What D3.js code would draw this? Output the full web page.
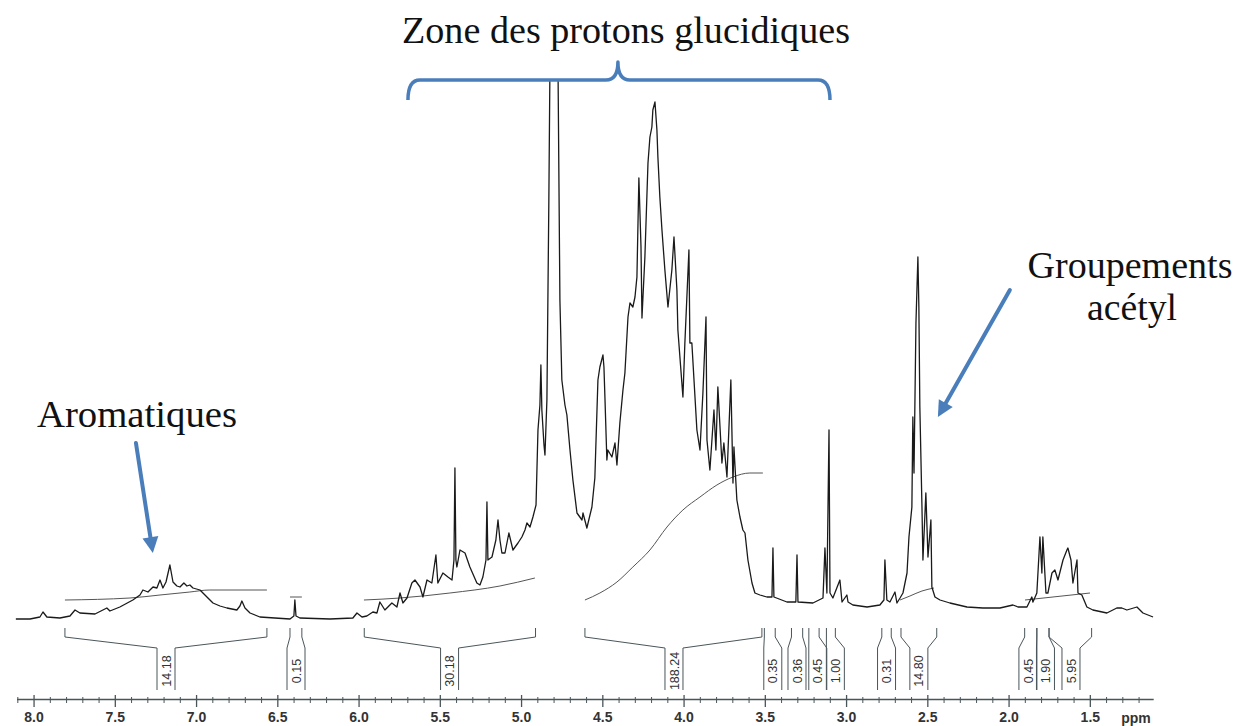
<!DOCTYPE html>
<html>
<head>
<meta charset="utf-8">
<script src="https://cdn.jsdelivr.net/npm/d3@7"></script>
<style>
  html, body { margin: 0; padding: 0; background: #fff; }
  svg { display: block; }
</style>
</head>
<body>
<svg id="chart" width="1236" height="726"></svg>
<script>
// 1H NMR spectrum: [chemical shift (ppm), intensity (a.u.)]
const spectrum = [
  [8.109,1],[8.022,1],[7.961,3],[7.942,8],[7.918,3],[7.838,2],[7.776,4],[7.745,10],[7.715,7],[7.622,6],
  [7.549,12],[7.530,9],[7.469,13],[7.389,20],[7.345,25],[7.327,30],[7.296,28],[7.265,33],[7.241,32],[7.222,40],
  [7.204,32],[7.185,38],[7.161,55],[7.142,38],[7.118,34],[7.099,33],[7.075,37],[7.056,34],[7.038,35],[7.019,32],
  [6.976,30],[6.933,23],[6.896,17],[6.853,14],[6.810,12],[6.749,10],[6.730,14],[6.718,19],[6.699,12],[6.668,7],
  [6.607,3],[6.515,2],[6.422,1],[6.398,4],[6.392,20],[6.385,4],[6.361,2],[6.176,1],[6.035,2],[6.010,7],
  [5.979,3],[5.949,4],[5.912,8],[5.887,7],[5.869,18],[5.838,10],[5.795,17],[5.764,13],[5.745,27],[5.727,17],
  [5.702,22],[5.672,37],[5.653,40],[5.622,33],[5.604,23],[5.579,40],[5.549,37],[5.524,65],[5.512,37],[5.481,47],
  [5.450,43],[5.425,40],[5.413,60],[5.407,152],[5.401,60],[5.395,53],[5.376,70],[5.345,67],[5.315,53],[5.272,37],
  [5.253,35],[5.235,43],[5.216,60],[5.210,118],[5.204,60],[5.179,63],[5.155,80],[5.142,100],[5.130,80],[5.118,67],
  [5.099,67],[5.075,87],[5.050,70],[5.019,77],[4.995,83],[4.976,90],[4.964,97],[4.945,93],[4.927,103],[4.908,115],
  [4.896,190],[4.884,215],[4.878,255],[4.872,210],[4.859,175],[4.853,165],[4.841,220],[4.829,420],[4.822,560],[4.773,560],
  [4.761,320],[4.749,240],[4.730,215],[4.718,205],[4.699,170],[4.681,140],[4.656,107],[4.625,100],[4.619,107],[4.595,92],
  [4.576,105],[4.564,113],[4.546,142],[4.527,240],[4.515,253],[4.496,265],[4.490,253],[4.484,223],[4.472,160],[4.466,170],
  [4.441,163],[4.422,177],[4.410,155],[4.392,197],[4.373,230],[4.361,247],[4.342,303],[4.330,317],[4.312,313],[4.299,323],
  [4.287,343],[4.275,442],[4.262,373],[4.256,302],[4.238,363],[4.219,457],[4.207,483],[4.195,493],[4.189,510],[4.176,518],
  [4.164,490],[4.158,463],[4.146,423],[4.133,390],[4.115,350],[4.096,313],[4.072,350],[4.059,383],[4.041,330],[4.035,290],
  [4.004,223],[3.992,277],[3.967,370],[3.961,277],[3.949,277],[3.918,190],[3.899,170],[3.881,227],[3.862,303],[3.856,180],
  [3.838,150],[3.813,210],[3.801,170],[3.789,233],[3.764,157],[3.752,177],[3.733,143],[3.709,240],[3.696,137],[3.690,173],
  [3.672,120],[3.653,103],[3.635,90],[3.622,87],[3.604,60],[3.579,37],[3.561,27],[3.530,25],[3.487,23],[3.456,23],
  [3.450,72],[3.444,23],[3.364,18],[3.309,18],[3.302,65],[3.296,18],[3.204,17],[3.142,22],[3.130,72],[3.118,27],
  [3.105,190],[3.099,27],[3.081,22],[3.038,40],[3.025,18],[2.995,25],[2.988,18],[2.958,15],[2.871,13],[2.792,15],
  [2.767,20],[2.761,60],[2.749,20],[2.730,18],[2.699,28],[2.687,17],[2.668,22],[2.650,27],[2.625,47],[2.613,83],
  [2.595,113],[2.589,203],[2.582,147],[2.570,297],[2.558,363],[2.552,313],[2.546,213],[2.533,113],[2.527,60],[2.509,127],
  [2.496,63],[2.478,100],[2.472,33],[2.453,23],[2.422,20],[2.361,17],[2.256,13],[2.158,12],[2.053,12],[1.973,15],
  [1.942,13],[1.887,13],[1.857,23],[1.850,18],[1.826,27],[1.807,83],[1.795,47],[1.789,83],[1.770,27],[1.758,27],
  [1.733,47],[1.715,50],[1.696,40],[1.665,60],[1.641,70],[1.635,72],[1.616,60],[1.604,37],[1.579,60],[1.573,27],
  [1.549,25],[1.518,13],[1.481,10],[1.395,7],[1.334,12],[1.303,12],[1.272,10],[1.210,13],[1.173,7],[1.111,3]
];

// Integrated regions: value, limits (ppm) and label position (ppm)
const integralValues  = [14.18, 0.15, 30.18, 188.24, 0.35, 0.36, 0.45, 1.00, 0.31, 14.80, 0.45, 1.90, 5.95];
const integralFrom    = [7.807, 6.422, 5.965, 4.607, 3.503, 3.336, 3.229, 3.121, 2.780, 2.662, 1.901, 1.826, 1.751];
const integralTo      = [6.564, 6.349, 4.911, 3.518, 3.436, 3.267, 3.166, 3.066, 2.722, 2.442, 1.826, 1.751, 1.489];
const integralLabelAt = [7.185, 6.385, 5.440, 4.059, 3.451, 3.302, 3.174, 3.066, 2.751, 2.552, 1.881, 1.773, 1.616];

// Running integral traces drawn over the spectrum
const integralCurves = [
  [[7.807,20],[7.407,22],[7.222,25],[7.038,28],[6.915,30],[6.564,30]],
  [[6.422,23],[6.349,23]],
  [[5.967,20],[5.745,22],[5.438,27],[5.130,34],[4.915,42]],
  [[4.607,20],[4.515,27],[4.410,38],[4.312,53],[4.207,70],[4.102,93],[4.004,110],[3.899,123],[3.795,135],[3.696,143],[3.592,147],[3.512,147]],
  [[2.668,20],[2.607,24],[2.533,29],[2.459,32]],
  [[1.899,20],[1.499,27]]
];

// Chemical shift axis
const majorTicks = [8.0, 7.5, 7.0, 6.5, 6.0, 5.5, 5.0, 4.5, 4.0, 3.5, 3.0, 2.5, 2.0, 1.5];
const tickLabels = ["8.0", "7.5", "7.0", "6.5", "6.0", "5.5", "5.0", "4.5", "4.0", "3.5", "3.0", "2.5", "2.0", "1.5"];
const axisUnit = "ppm";

const blue = "#4a7ebb";
const svg = d3.select("#chart");

const x = d3.scaleLinear().domain([8.105, 1.11]).range([16.5, 1153.2]);
const y = d3.scaleLinear().domain([0, 540]).range([620, 80]);

// plot clip (the solvent peak runs off the top)
svg.append("defs").append("clipPath").attr("id", "plotClip")
  .append("rect").attr("x", 0).attr("y", y(540)).attr("width", 1236).attr("height", 620 - y(540) + 10);

const line = d3.line().x(d => x(d[0])).y(d => y(d[1]));

// integral traces
svg.append("g").attr("clip-path", "url(#plotClip)")
  .selectAll("path.int").data(integralCurves).join("path")
  .attr("class", "int")
  .attr("d", d => d3.line().curve(d3.curveMonotoneX).x(p => x(p[0])).y(p => y(p[1]))(d))
  .attr("fill", "none").attr("stroke", "#555").attr("stroke-width", 1);

// spectrum trace
svg.append("path").datum(spectrum)
  .attr("clip-path", "url(#plotClip)")
  .attr("d", line)
  .attr("fill", "none")
  .attr("stroke", "#1a1a1a")
  .attr("stroke-width", 1.3)
  .attr("stroke-linejoin", "round");

// integral brackets below the spectrum
const yTop = 628, yBend = 637, yLab = 648, yBot = 690, half = 9;
const ig = svg.append("g").attr("fill", "none").attr("stroke", "#4a555a").attr("stroke-width", 1);
integralValues.forEach((v, i) => {
  const xa = x(integralFrom[i]), xb = x(integralTo[i]), xc = x(integralLabelAt[i]);
  const p = d3.path();
  p.moveTo(xa, yTop); p.lineTo(xa, yBend); p.lineTo(xc - half, yLab); p.lineTo(xc - half, yBot);
  p.moveTo(xb, yTop); p.lineTo(xb, yBend); p.lineTo(xc + half, yLab); p.lineTo(xc + half, yBot);
  ig.append("path").attr("d", p.toString());
  svg.append("text")
    .attr("transform", `translate(${xc + 4.6},${(yLab + yBot) / 2 + 2}) rotate(-90)`)
    .attr("text-anchor", "middle")
    .attr("font-family", "'Liberation Sans', Arial, sans-serif")
    .attr("font-size", 12.5)
    .attr("fill", "#333")
    .text(v.toFixed(2));
});

// axis: major and minor ticks
const axisY = 699;
const minorTicks = d3.range(81, 11, -1).map(d => d / 10).filter(d => !majorTicks.includes(d));
const minorG = svg.append("g").attr("transform", `translate(0,${axisY})`)
  .call(d3.axisBottom(x).tickValues(minorTicks).tickSize(4).tickFormat(""));
minorG.select(".domain").remove();
minorG.selectAll(".tick line").attr("stroke", "#4a555a").attr("y1", -2);

const axisG = svg.append("g").attr("transform", `translate(0,${axisY})`)
  .call(d3.axisBottom(x).tickValues(majorTicks).tickFormat((d, i) => tickLabels[i])
    .tickSizeInner(8).tickSizeOuter(0).tickPadding(5));
axisG.select(".domain").attr("stroke", "#4a555a").attr("stroke-width", 1.3);
axisG.selectAll(".tick line").attr("stroke", "#4a555a").attr("stroke-width", 1.3).attr("y1", -4);
axisG.selectAll(".tick text")
  .attr("font-family", "'Liberation Sans', Arial, sans-serif")
  .attr("font-size", 14).attr("font-weight", "bold").attr("fill", "#333");
svg.append("text").attr("x", 1136).attr("y", 723)
  .attr("text-anchor", "middle")
  .attr("font-family", "'Liberation Sans', Arial, sans-serif")
  .attr("font-size", 14).attr("font-weight", "bold").attr("fill", "#333")
  .text(axisUnit);

// annotations
const serif = "'Liberation Serif', 'Times New Roman', serif";
function label(txt, cx, base, width) {
  svg.append("text").attr("x", cx).attr("y", base)
    .attr("text-anchor", "middle")
    .attr("font-family", serif).attr("font-size", 37).attr("fill", "#111")
    .attr("textLength", width).attr("lengthAdjust", "spacingAndGlyphs")
    .text(txt);
}
label("Zone des protons glucidiques", 626, 43, 448);
label("Aromatiques", 137, 427, 200);
label("Groupements", 1130, 278, 205);
label("acétyl", 1132, 320, 90);

function arrow(p0, p1) {
  const x0 = x(p0[0]), y0 = y(p0[1]), x1 = x(p1[0]), y1 = y(p1[1]);
  const dx = x1 - x0, dy = y1 - y0, L = Math.hypot(dx, dy);
  const ux = dx / L, uy = dy / L, head = 16, w = 8;
  const bx = x1 - ux * head, by = y1 - uy * head;
  svg.append("line").attr("x1", x0).attr("y1", y0).attr("x2", bx + ux * 2).attr("y2", by + uy * 2)
    .attr("stroke", blue).attr("stroke-width", 4).attr("stroke-linecap", "round");
  svg.append("path")
    .attr("d", `M${x1},${y1}L${bx - uy * w},${by + ux * w}L${bx + uy * w},${by - ux * w}Z`)
    .attr("fill", blue);
}
arrow([7.370, 177], [7.266, 67]);
arrow([1.992, 330], [2.435, 203]);

// bracket over the carbohydrate proton region
const bL = x(5.696), bR = x(3.099), bC = x(4.404), bY = y(540), r = 12;
svg.append("path")
  .attr("d", `M${bL},${bY + 20} Q${bL},${bY} ${bL + r},${bY} L${bC - r},${bY} Q${bC},${bY} ${bC},${bY - 18}` +
             ` Q${bC},${bY} ${bC + r},${bY} L${bR - r},${bY} Q${bR},${bY} ${bR},${bY + 20}`)
  .attr("fill", "none").attr("stroke", blue).attr("stroke-width", 3.5).attr("stroke-linejoin", "round");
</script>
</body>
</html>
